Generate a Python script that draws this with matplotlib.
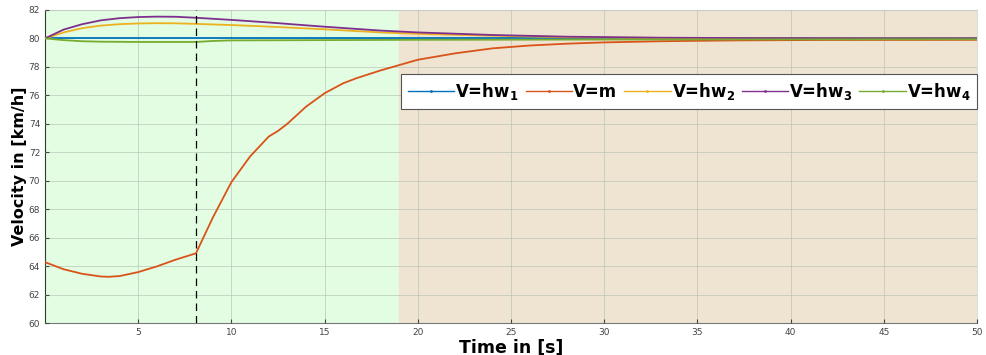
import numpy as np
import matplotlib
matplotlib.use('Agg')
import matplotlib.pyplot as plt
from matplotlib.lines import Line2D

# ---- series (time in s, velocity in km/h) ----
t_hw1 = [0, 50]
v_hw1 = [80, 80]

t_m = [0, 1, 2, 3, 3.4, 4, 5, 6, 7, 8.1, 9, 10, 11, 12, 12.5, 13, 14, 15,
       16, 16.7, 18, 20, 22, 24, 26, 28, 30, 33, 37, 42, 50]
v_m = [64.28, 63.78, 63.46, 63.27, 63.25, 63.3, 63.58, 63.98, 64.45, 64.9,
       67.4, 69.9, 71.7, 73.1, 73.5, 74.0, 75.2, 76.15, 76.85, 77.2, 77.75,
       78.5, 78.95, 79.3, 79.5, 79.63, 79.72, 79.8, 79.86, 79.89, 79.9]

t_hw2 = [0, 1, 2, 3, 4, 5, 6, 7, 8.1, 10, 12, 15, 18, 20, 24, 28, 33, 40, 50]
v_hw2 = [80, 80.42, 80.72, 80.9, 81.0, 81.05, 81.07, 81.06, 81.02, 80.94,
         80.83, 80.64, 80.42, 80.32, 80.19, 80.08, 80.03, 80.0, 80.0]

t_hw3 = [0, 1, 2, 3, 4, 5, 6, 7, 8.1, 10, 12, 15, 18, 20, 24, 28, 33, 38, 45, 50]
v_hw3 = [80, 80.62, 81.0, 81.27, 81.42, 81.5, 81.53, 81.52, 81.45, 81.3,
         81.12, 80.82, 80.55, 80.42, 80.24, 80.12, 80.05, 80.02, 80.0, 80.0]

t_hw4 = [0, 1, 2, 3, 5, 7, 8.1, 9, 10, 15, 20, 30, 40, 50]
v_hw4 = [80, 79.88, 79.8, 79.77, 79.75, 79.75, 79.75, 79.82, 79.86, 79.88,
         79.9, 79.92, 79.93, 79.94]

labels = [r'V=hw$_\mathbf{1}$', 'V=m', r'V=hw$_\mathbf{2}$',
          r'V=hw$_\mathbf{3}$', r'V=hw$_\mathbf{4}$']
colors = ['#0072BD', '#D95319', '#EDB120', '#7E2F8E', '#77AC30']

t_switch = 8.1
phase_end = 19

fig = plt.figure(figsize=(9.86, 3.55), dpi=100)
ax = fig.add_axes([0.0456, 0.09, 0.9454, 0.882])

ax.axvspan(0, phase_end, color='#E2FDE2', zorder=0)
ax.axvspan(phase_end, 50, color='#EFE4D1', zorder=0)

series = [(t_hw1, v_hw1), (t_m, v_m), (t_hw2, v_hw2), (t_hw3, v_hw3), (t_hw4, v_hw4)]
for (t, v), c in zip(series, colors):
    ax.plot(t, v, color=c, lw=1.3, zorder=3)

ax.axvline(t_switch, color='black', ls=(0, (6, 4)), lw=0.9, zorder=4)

ax.set_xlim(0, 50)
ax.set_ylim(60, 82)
ax.set_xticks(np.arange(5, 51, 5))
ax.set_yticks(np.arange(60, 83, 2))
ax.tick_params(direction='in', length=3, labelsize=6.5, colors='#444444')
ax.grid(True, color='#b4c2b4', lw=0.6, alpha=0.75, zorder=1)
ax.set_axisbelow(False)

ax.spines['left'].set_color('#2a3f2a')
ax.spines['bottom'].set_color('#777777')
ax.spines['top'].set_color('#dddddd')
ax.spines['right'].set_color('#dddddd')

ax.set_xlabel('Time in [s]', fontsize=12.5, fontweight='bold', labelpad=1)
ax.set_ylabel('Velocity in [km/h]', fontsize=11.5, fontweight='bold', labelpad=1)

handles = [Line2D([], [], color=c, lw=1, marker='.', markersize=2) for c in colors]
leg = ax.legend(handles, labels, ncol=5, mode='expand',
                bbox_to_anchor=(0.382, 0.685, 0.618, 0.107), loc='lower left',
                prop={'weight': 'bold', 'size': 12}, handlelength=2.8,
                handletextpad=0.05, columnspacing=0.6, borderaxespad=0,
                fancybox=False, framealpha=1, edgecolor='#555555')
leg.get_frame().set_linewidth(0.8)
leg.set_zorder(5)

fig.savefig('out.png', dpi=100)
